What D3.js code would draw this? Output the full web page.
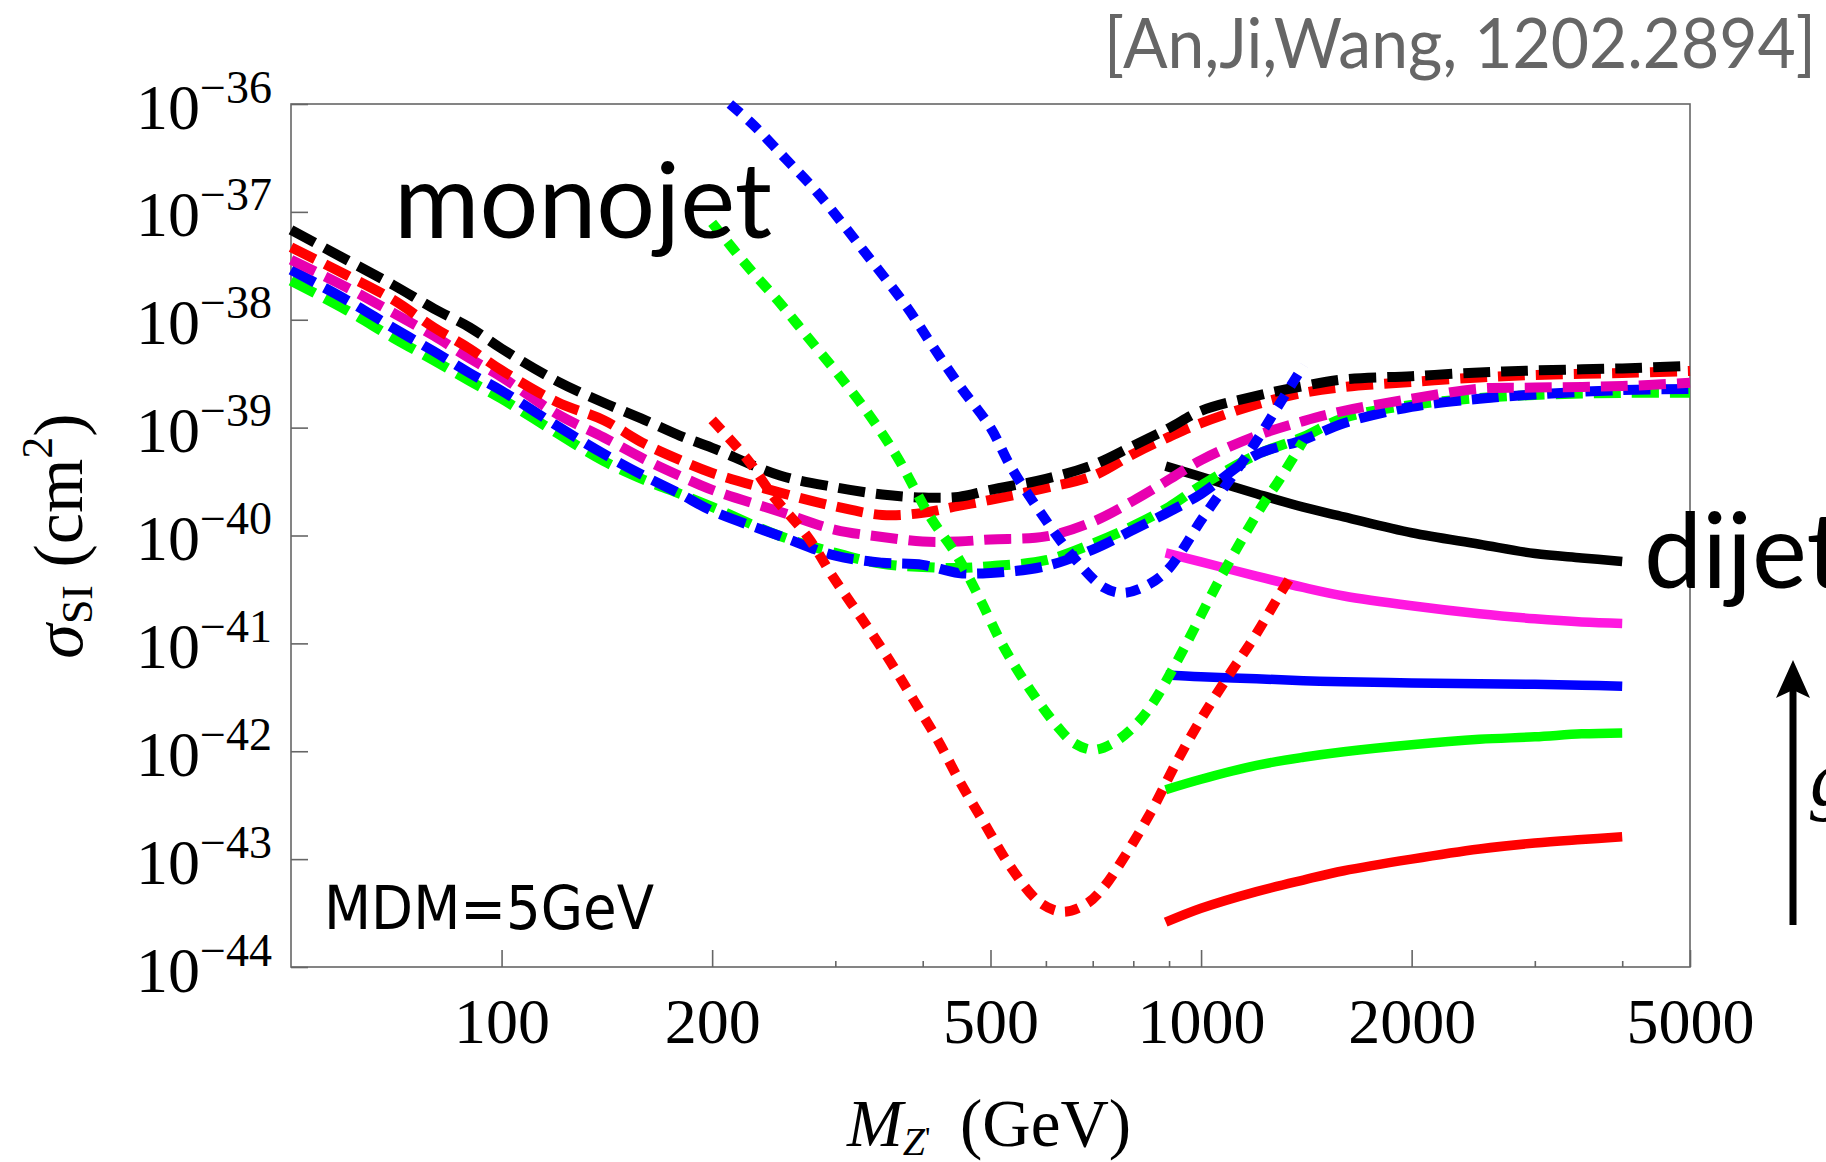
<!DOCTYPE html>
<html>
<head>
<meta charset="utf-8">
<script src="https://cdn.jsdelivr.net/npm/d3@7"></script>
<style>
  body { margin: 0; background: #fff; }
  svg { display: block; }
  .tick line { stroke: #666; stroke-width: 1.6; }
</style>
</head>
<body>
<svg width="1826" height="1162"></svg>
<script>
// monojet bounds (dashed), one grid of masses for all five couplings
const monoMass = [50, 60, 70, 80, 90, 100, 120, 140, 160, 180, 200, 250, 300, 350, 400, 450, 500,
  600, 700, 800, 900, 1000, 1200, 1400, 1600, 2000, 2500, 3000, 4000, 5000];
const monoBlack = [6.8e-38, 3.6e-38, 2.1e-38, 1.27e-38, 8.5e-39, 5.4e-39, 2.7e-39, 1.7e-39, 1.18e-39, 8.4e-40,
  6.5e-40, 3.6e-40, 2.8e-40, 2.4e-40, 2.25e-40, 2.28e-40, 2.65e-40, 3.35e-40, 4.5e-40, 6.8e-40,
  9.9e-40, 1.43e-39, 1.97e-39, 2.43e-39, 2.8e-39, 3.0e-39, 3.25e-39, 3.39e-39, 3.54e-39, 3.73e-39];
const monoRed = [4.7e-38, 2.6e-38, 1.53e-38, 8.5e-39, 5.4e-39, 3.4e-39, 1.73e-39, 1.17e-39, 7.1e-40, 5.0e-40,
  3.8e-40, 2.5e-40, 1.86e-40, 1.55e-40, 1.62e-40, 1.88e-40, 2.14e-40, 2.76e-40, 3.56e-40, 5.7e-40,
  8.2e-40, 1.1e-39, 1.64e-39, 2.1e-39, 2.38e-39, 2.65e-39, 2.92e-39, 3.08e-39, 3.21e-39, 3.35e-39];
const monoMagenta = [3.6e-38, 2.0e-38, 1.16e-38, 7.1e-39, 4.4e-39, 2.95e-39, 1.34e-39, 8.1e-40, 5.1e-40, 3.56e-40,
  2.65e-40, 1.66e-40, 1.13e-40, 9.7e-41, 8.8e-41, 8.8e-41, 9.2e-41, 9.8e-41, 1.34e-40, 2.1e-40,
  3.3e-40, 5.0e-40, 8.4e-40, 1.15e-39, 1.43e-39, 1.85e-39, 2.3e-39, 2.35e-39, 2.43e-39, 2.6e-39];
const monoBlue = [2.9e-38, 1.53e-38, 8.4e-39, 5.1e-39, 3.21e-39, 2.2e-39, 1.04e-39, 5.7e-40, 3.56e-40, 2.43e-40,
  1.69e-40, 9.9e-41, 6.5e-41, 5.6e-41, 5.34e-41, 4.5e-41, 4.5e-41, 5.2e-41, 7.4e-41, 1.13e-40,
  1.66e-40, 2.43e-40, 5.6e-40, 7.69e-40, 1.1e-39, 1.56e-39, 1.85e-39, 2.03e-39, 2.23e-39, 2.28e-39];
const monoGreen = [2.3e-38, 1.23e-38, 6.8e-39, 4.2e-39, 2.71e-39, 1.85e-39, 8.9e-40, 4.9e-40, 3.27e-40, 2.43e-40,
  1.84e-40, 9.9e-41, 6.9e-41, 5.46e-41, 5.1e-41, 5.0e-41, 5.2e-41, 5.9e-41, 8.4e-41, 1.23e-40,
  1.84e-40, 2.9e-40, 5.6e-40, 8.2e-40, 1.23e-39, 1.62e-39, 1.88e-39, 2.01e-39, 2.1e-39, 2.1e-39];

// resonance curves (dotted)
const resBlueMass = [212, 229, 256, 283, 329, 380, 414, 453, 500, 534, 590, 657, 726, 775, 839, 896, 1008, 1177, 1287, 1402];
const resBlue = [1.0e-36, 6.4e-37, 3.0e-37, 1.5e-37, 4.4e-38, 1.3e-38, 5.6e-39, 2.38e-39, 1.0e-39, 4.4e-40,
  1.62e-40, 6.3e-41, 3.3e-41, 2.94e-41, 3.48e-41, 4.8e-41, 1.49e-40, 6.2e-40, 1.56e-39, 3.8e-39];
const resGreenMass = [200, 225, 250, 276, 305, 337, 368, 410, 449, 484, 522, 570, 624, 657, 702, 750, 801, 847, 926, 1067, 1205, 1313, 1398];
const resGreen = [7.9e-38, 3.1e-38, 1.43e-38, 6.5e-39, 2.95e-39, 1.26e-39, 5.3e-40, 1.49e-40, 6.3e-41, 2.5e-41,
  9.3e-42, 3.7e-42, 1.68e-42, 1.2e-42, 1.03e-42, 1.2e-42, 1.68e-42, 2.6e-42, 7.0e-42, 4.1e-41, 1.62e-40, 3.8e-40, 7.4e-40];
const resRedMass = [200, 225, 245, 274, 298, 326, 356, 388, 420, 453, 489, 534, 590, 636, 688, 726, 767, 847, 926, 998, 1092, 1189, 1300, 1357];
const resRed = [1.18e-39, 5.0e-40, 2.28e-40, 9.7e-41, 4.1e-41, 1.76e-41, 7.5e-42, 3.0e-42, 1.28e-42, 5.1e-43,
  2.2e-43, 8.5e-44, 3.9e-44, 3.25e-44, 3.9e-44, 5.5e-44, 9.2e-44, 2.7e-43, 8.3e-43, 1.95e-42, 4.9e-42, 1.12e-41, 2.94e-41, 4.6e-41];

// dijet bounds (solid)
const dijetMass = [890, 1000, 1200, 1400, 1600, 2000, 2500, 3000, 3500, 4000];
const dijetBlack = [4.4e-40, 3.5e-40, 2.44e-40, 1.83e-40, 1.49e-40, 1.06e-40, 8.3e-41, 6.8e-41, 6.2e-41, 5.75e-41];
const dijetMagenta = [6.9e-41, 5.7e-41, 4.2e-41, 3.3e-41, 2.75e-41, 2.23e-41, 1.88e-41, 1.69e-41, 1.58e-41, 1.53e-41];
const dijetBlue = [5.1e-42, 4.9e-42, 4.7e-42, 4.5e-42, 4.4e-42, 4.3e-42, 4.22e-42, 4.17e-42, 4.1e-42, 4.0e-42];
const dijetGreen = [4.4e-43, 5.5e-43, 7.4e-43, 8.8e-43, 9.9e-43, 1.15e-42, 1.29e-42, 1.36e-42, 1.45e-42, 1.48e-42];
const dijetRed = [2.6e-44, 3.5e-44, 5.0e-44, 6.4e-44, 7.8e-44, 1.0e-43, 1.24e-43, 1.41e-43, 1.52e-43, 1.61e-43];

const xMajor = [100, 200, 500, 1000, 2000, 5000];
const xMinor = [300, 400, 600, 700, 800, 900, 3000, 4000];
const yTicks = [-36, -37, -38, -39, -40, -41, -42, -43, -44];

const svg = d3.select('svg');
const margin = { top: 104, right: 136, bottom: 195, left: 291 };
const width = +svg.attr('width');
const height = +svg.attr('height');
const innerRight = width - margin.right;
const innerBottom = height - margin.bottom;

const x = d3.scaleLog().domain([50, 5000]).range([margin.left, innerRight]);
const y = d3.scaleLog().domain([1e-44, 1e-36]).range([innerBottom, margin.top]);

// axes, ticks pointing inward
const xAxisG = svg.append('g')
  .attr('transform', `translate(0,${innerBottom})`)
  .call(d3.axisBottom(x).tickValues(xMajor).tickSize(-17).tickPadding(31).tickFormat(d3.format('d')));
xAxisG.select('.domain').remove();
xAxisG.selectAll('text')
  .attr('font-family', '"Liberation Serif", serif')
  .attr('font-size', 64)
  .attr('fill', '#000');

svg.append('g')
  .attr('transform', `translate(0,${innerBottom})`)
  .call(d3.axisBottom(x).tickValues(xMinor).tickSize(-6).tickFormat(''))
  .select('.domain').remove();

const yAxisG = svg.append('g')
  .attr('transform', `translate(${margin.left},0)`)
  .call(d3.axisLeft(y).tickValues(yTicks.map(e => Math.pow(10, e))).tickSize(-17).tickFormat(''));
yAxisG.select('.domain').remove();
yAxisG.selectAll('.tick text').remove();
yAxisG.selectAll('.tick').each(function (d) {
  const t = d3.select(this).append('text')
    .attr('x', -19)
    .attr('y', 24)
    .attr('text-anchor', 'end')
    .attr('font-family', '"Liberation Serif", serif')
    .attr('fill', '#000');
  t.append('tspan').attr('font-size', 64).text('10');
  t.append('tspan').attr('font-size', 46).attr('dy', -26).text('\u2212' + Math.round(-Math.log10(d)));
});

svg.append('rect')
  .attr('x', margin.left)
  .attr('y', margin.top)
  .attr('width', innerRight - margin.left)
  .attr('height', innerBottom - margin.top)
  .attr('fill', 'none')
  .attr('stroke', '#666')
  .attr('stroke-width', 1.6);

const line = d3.line()
  .x(d => x(d[0]))
  .y(d => y(d[1]))
  .curve(d3.curveCatmullRom.alpha(0.5));

const zip = (ms, vs) => ms.map((m, i) => [m, vs[i]]);

const drawCurve = (mass, values, color, dash, w) => {
  svg.append('path')
    .datum(zip(mass, values))
    .attr('d', line)
    .attr('fill', 'none')
    .attr('stroke', color)
    .attr('stroke-width', w)
    .attr('stroke-dasharray', dash);
};

// solid dijet lines
drawCurve(dijetMass, dijetBlack, '#000', null, 9.5);
drawCurve(dijetMass, dijetMagenta, '#ff18e0', null, 9.5);
drawCurve(dijetMass, dijetBlue, '#0000ff', null, 9.5);
drawCurve(dijetMass, dijetGreen, '#00ff00', null, 9.5);
drawCurve(dijetMass, dijetRed, '#ff0000', null, 9.5);

// dashed monojet lines
drawCurve(monoMass, monoGreen, '#00ff00', '27,11', 10);
drawCurve(monoMass, monoBlue, '#0000ff', '27,11', 10);
drawCurve(monoMass, monoMagenta, '#e800b0', '27,11', 10);
drawCurve(monoMass, monoRed, '#ff0000', '27,11', 10);
drawCurve(monoMass, monoBlack, '#000', '27,11', 10);

// dotted resonance lines
drawCurve(resRedMass, resRed, '#ff0000', '14,10.5', 10);
drawCurve(resGreenMass, resGreen, '#00ff00', '14,10.5', 10);
drawCurve(resBlueMass, resBlue, '#0000ff', '14,10.5', 10);

// axis titles
const xTitle = svg.append('text')
  .attr('x', 847)
  .attr('y', 1146)
  .attr('font-family', '"Liberation Serif", serif')
  .attr('font-size', 67)
  .attr('fill', '#000');
xTitle.append('tspan').attr('font-style', 'italic').text('M');
xTitle.append('tspan').attr('font-style', 'italic').attr('font-size', 40).attr('dy', 9).text('Z');
xTitle.append('tspan').attr('font-size', 30).attr('dy', -8).text('\'');
xTitle.append('tspan').attr('x', 960).attr('dy', -1).text('(GeV)');

const yTitle = svg.append('text')
  .attr('transform', 'translate(82,536) rotate(-90)')
  .attr('text-anchor', 'middle')
  .attr('font-family', '"Liberation Serif", serif')
  .attr('font-size', 70)
  .attr('fill', '#000');
yTitle.append('tspan').attr('font-style', 'italic').text('\u03c3');
yTitle.append('tspan').attr('font-size', 44).attr('dy', 10).text('SI');
yTitle.append('tspan').attr('dy', -10).text(' (cm');
yTitle.append('tspan').attr('font-size', 44).attr('dy', -30).text('2');
yTitle.append('tspan').attr('dy', 30).text(')');

// labels
const sans = 'Lato, "Open Sans", sans-serif';
const mono = svg.append('text')
  .attr('x', 394).attr('y', 238)
  .attr('font-family', sans).attr('font-size', 100)
  .attr('fill', '#000')
  .text('monojet');
const fs = 100 * 378 / mono.node().getComputedTextLength();
mono.attr('font-size', fs);

svg.append('text')
  .attr('x', 1644).attr('y', 588)
  .attr('font-family', sans).attr('font-size', fs)
  .attr('fill', '#000')
  .text('dijet');

svg.append('text')
  .attr('x', 324).attr('y', 929)
  .attr('font-family', '"DejaVu Sans", sans-serif').attr('font-size', 60)
  .attr('textLength', 330).attr('lengthAdjust', 'spacingAndGlyphs')
  .attr('fill', '#000')
  .text('MDM=5GeV');

svg.append('text')
  .attr('x', 1104).attr('y', 68)
  .attr('font-family', sans).attr('font-size', 70)
  .attr('textLength', 712).attr('lengthAdjust', 'spacingAndGlyphs')
  .attr('fill', '#666')
  .text('[An,Ji,Wang, 1202.2894]');

// coupling arrow
svg.append('line')
  .attr('x1', 1793).attr('y1', 925)
  .attr('x2', 1793).attr('y2', 690)
  .attr('stroke', '#000').attr('stroke-width', 7);
svg.append('path')
  .attr('d', 'M1793,660 L1776,698 L1793,690 L1810,698 Z')
  .attr('fill', '#000');
svg.append('text')
  .attr('x', 1810).attr('y', 805)
  .attr('font-family', '"Liberation Serif", serif')
  .attr('font-style', 'italic').attr('font-size', 80)
  .attr('fill', '#000')
  .text('g');
</script>
</body>
</html>
